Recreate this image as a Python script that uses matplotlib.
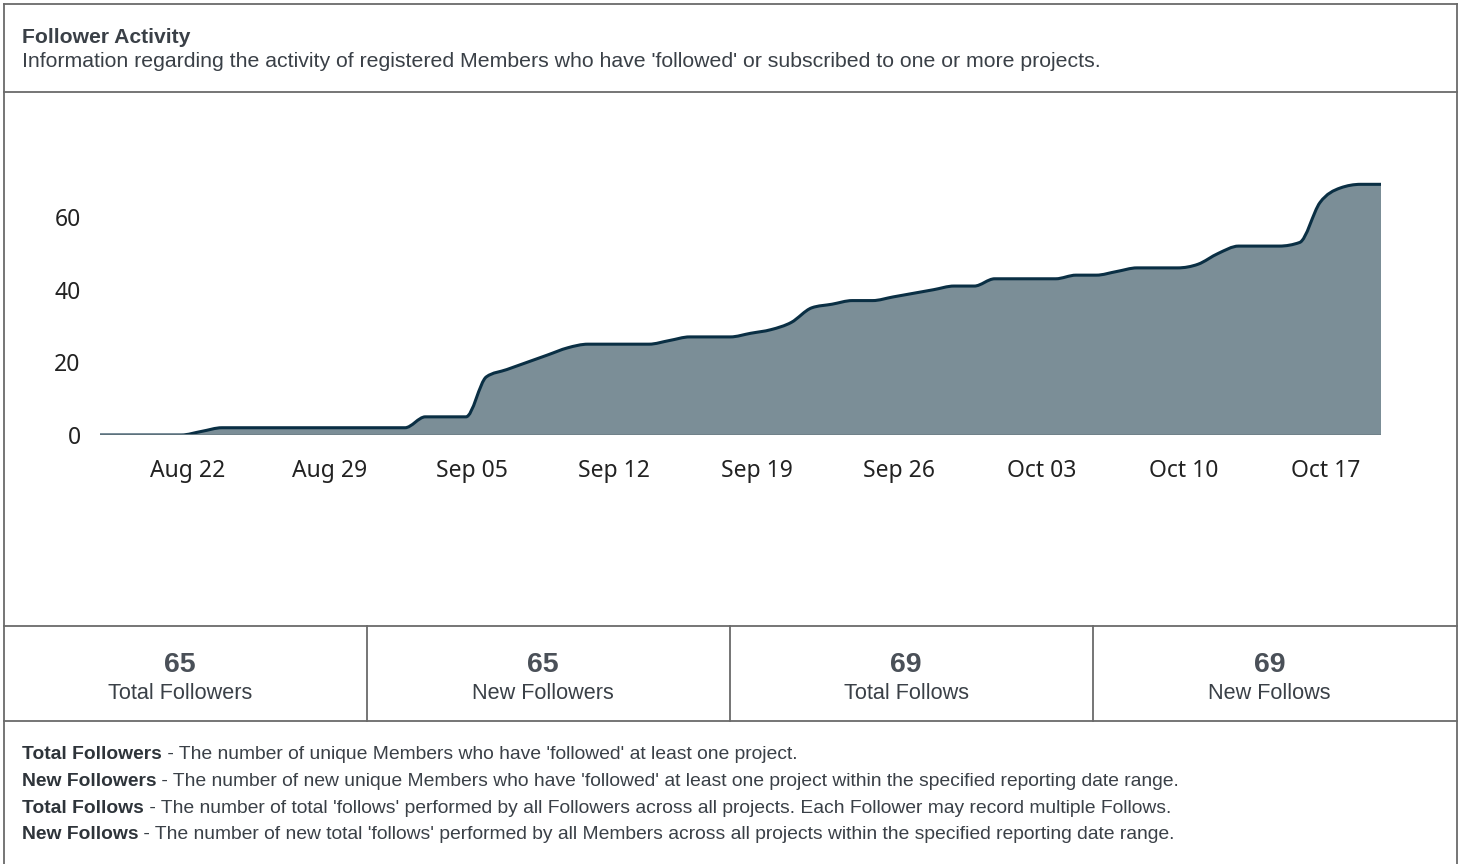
import numpy as np
import pandas as pd
import matplotlib
matplotlib.use("Agg")
import matplotlib.pyplot as plt
import matplotlib.dates as mdates
from matplotlib.path import Path
from matplotlib.patches import PathPatch

# daily cumulative follows, Aug 18 .. Oct 20
start_date = "2023-08-18"
follows = [0, 0, 0, 0, 0, 1, 2,
           2, 2, 2, 2, 2, 2, 2, 2, 2,
           5, 5, 5,
           16, 18, 20, 22, 24, 25,
           25, 25, 25,
           26, 27, 27, 27,
           28, 29, 31, 35, 36, 37, 37, 38, 39, 40, 41, 41,
           43, 43, 43, 43, 44, 44, 45, 46, 46, 46, 47, 50, 52, 52, 52, 53, 64, 68, 69, 69]
tick_dates = ["2023-08-22", "2023-08-29", "2023-09-05", "2023-09-12", "2023-09-19",
              "2023-09-26", "2023-10-03", "2023-10-10", "2023-10-17"]
tick_labels = ["Aug 22", "Aug 29", "Sep 05", "Sep 12", "Sep 19", "Sep 26", "Oct 03", "Oct 10", "Oct 17"]
y_ticks = [0, 20, 40, 60]

title = "Follower Activity"
subtitle = "Information regarding the activity of registered Members who have 'followed' or subscribed to one or more projects."
stat_values = ["65", "65", "69", "69"]
stat_names = ["Total Followers", "New Followers", "Total Follows", "New Follows"]
notes = [
    ("Total Followers", " - The number of unique Members who have 'followed' at least one project."),
    ("New Followers", " - The number of new unique Members who have 'followed' at least one project within the specified reporting date range."),
    ("Total Follows", " - The number of total 'follows' performed by all Followers across all projects. Each Follower may record multiple Follows."),
    ("New Follows", " - The number of new total 'follows' performed by all Members across all projects within the specified reporting date range."),
]

W, H = 1462, 864
fig = plt.figure(figsize=(W / 100, H / 100), dpi=100)
fig.patch.set_facecolor("white")

# overlay in pixel coords for frame and text
bg = fig.add_axes([0, 0, 1, 1])
bg.set_xlim(0, W)
bg.set_ylim(H, 0)
bg.axis("off")

edge = "#6a6a6a"
bg.plot([4, 4], [4, H], color=edge, lw=1.3)
bg.plot([1457, 1457], [4, H], color=edge, lw=1.3)
bg.plot([4, 1457], [4, 4], color=edge, lw=1.3)
for yy in (92, 626, 721):
    bg.plot([4, 1457], [yy, yy], color=edge, lw=1.3)
for xx in (367, 730, 1093):
    bg.plot([xx, xx], [626, 721], color=edge, lw=1.3)

sans = "Liberation Sans"
txt_col = "#3a4047"
bg.text(22, 43, title, fontsize=15.2, fontweight="bold", family=sans, color=txt_col, va="baseline")
bg.text(22, 67, subtitle, fontsize=15.35, family=sans, color=txt_col, va="baseline")

cell_w = (1457 - 4) / 4
for i, (v, n) in enumerate(zip(stat_values, stat_names)):
    cx = 4 + cell_w * (i + 0.5) - 6
    bg.text(cx, 672, v, fontsize=20.5, fontweight="bold", family=sans, color="#4a5058", ha="center", va="baseline")
    bg.text(cx, 699, n, fontsize=15.6, family=sans, color=txt_col, ha="center", va="baseline")

renderer = fig.canvas.get_renderer()
for i, (b, rest) in enumerate(notes):
    yy = 759.3 + 26.7 * i
    t = bg.text(22, yy, b, fontsize=13.85, fontweight="bold", family=sans, color="#2e343a", va="baseline")
    ext = t.get_window_extent(renderer=renderer)
    x_end = bg.transData.inverted().transform((ext.x1, ext.y0))[0]
    bg.text(x_end, yy, rest, fontsize=13.85, family=sans, color=txt_col, va="baseline")

# chart axes: x 100..1381 px, y=0 at 435 px, 3.633 px per unit
ymax = 75
px_per = 3.633
ax = fig.add_axes([100 / W, (H - 435) / H, 1281 / W, ymax * px_per / H])
ax.patch.set_alpha(0)

# points at UTC midnight shown in local time
dates = pd.date_range(start_date, periods=len(follows), freq="D") - pd.Timedelta(hours=7)
x = mdates.date2num(dates.to_pydatetime())
y = np.array(follows, dtype=float)

# monotone cubic (like d3 curveMonotoneX) as bezier segments
h = np.diff(x)
s = np.diff(y) / h
t = np.zeros(len(y))
for i in range(1, len(y) - 1):
    s0, s1 = s[i - 1], s[i]
    p = (s0 * h[i] + s1 * h[i - 1]) / (h[i - 1] + h[i])
    t[i] = (np.sign(s0) + np.sign(s1)) * min(abs(s0), abs(s1), 0.5 * abs(p))
t[0] = (3 * s[0] - t[1]) / 2
t[-1] = (3 * s[-1] - t[-2]) / 2

verts = [(x[0], y[0])]
codes = [Path.MOVETO]
for i in range(len(y) - 1):
    dx = (x[i + 1] - x[i]) / 3
    verts += [(x[i] + dx, y[i] + dx * t[i]), (x[i + 1] - dx, y[i + 1] - dx * t[i + 1]), (x[i + 1], y[i + 1])]
    codes += [Path.CURVE4] * 3
line_path = Path(verts, codes)
fill_path = Path(verts + [(x[-1], 0), (x[0], 0), (x[0], y[0])],
                 codes + [Path.LINETO, Path.LINETO, Path.CLOSEPOLY])

ax.add_patch(PathPatch(fill_path, facecolor="#7b8e97", edgecolor="none"))
ax.plot([x[0], x[-1]], [0, 0], color="#6e7f87", lw=1.2)
ax.add_patch(PathPatch(line_path, facecolor="none", edgecolor="#0a2f44", lw=2.2, capstyle="round", joinstyle="round"))

ax.set_xlim(x[0], x[-1])
ax.set_ylim(0, ymax)
ax.set_xticks(mdates.date2num(pd.to_datetime(tick_dates).to_pydatetime()))
ax.set_xticklabels(tick_labels)
ax.set_yticks(y_ticks)
for sp in ax.spines.values():
    sp.set_visible(False)
ax.tick_params(axis="both", length=0, labelsize=16.5, labelcolor="#222222")
ax.tick_params(axis="x", pad=17)
ax.tick_params(axis="y", pad=14)
for lab in ax.get_xticklabels() + ax.get_yticklabels():
    lab.set_family("Noto Sans")

fig.savefig("out.png", dpi=100)
